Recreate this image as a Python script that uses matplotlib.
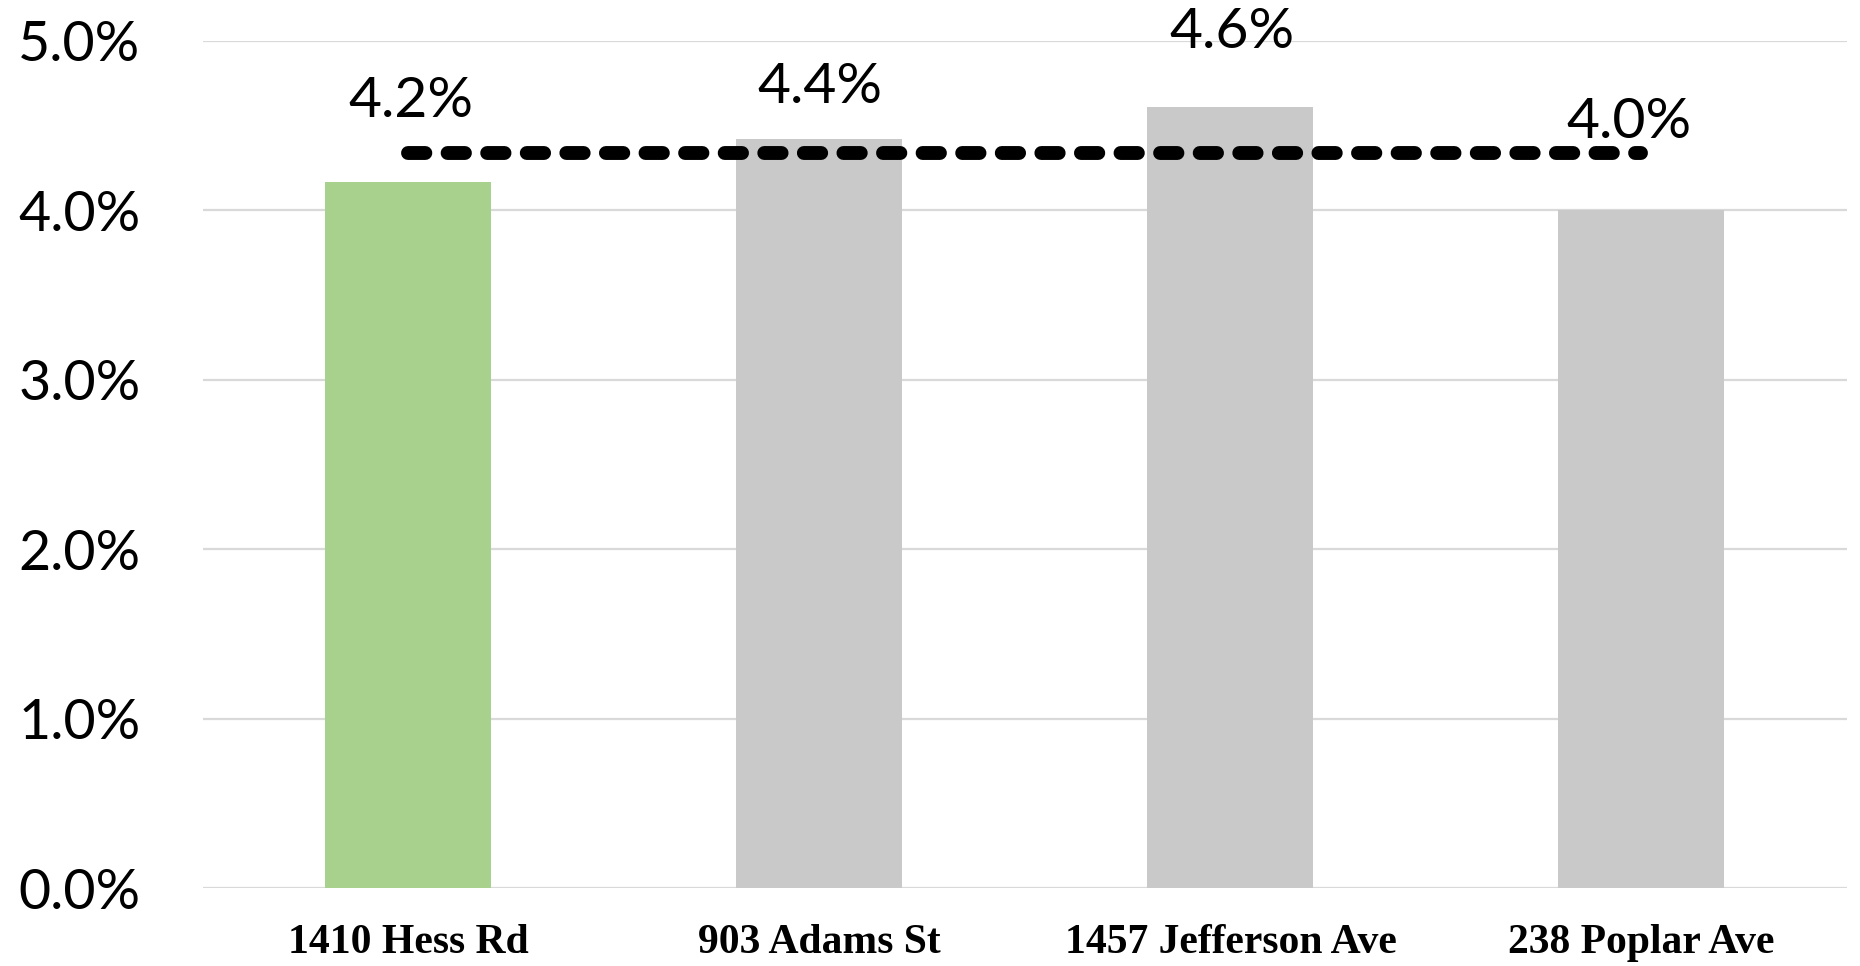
import matplotlib
matplotlib.use('Agg')
import matplotlib.pyplot as plt
from matplotlib.ticker import PercentFormatter

# vacancy rate by property, with the portfolio average as a dashed line
properties = ['1410 Hess Rd', '903 Adams St', '1457 Jefferson Ave', '238 Poplar Ave']
rates = [0.0417, 0.0442, 0.0461, 0.0400]
average_rate = 0.0434

bar_colors = ['#a9d18e', '#c9c9c9', '#c9c9c9', '#c9c9c9']
label_offsets = [58, 37, 54, 63]   # points above each bar top
label_shift = [2, 0, 1, -9]         # points, horizontal nudge

fig = plt.figure(figsize=(18.6, 9.66), dpi=100)
ax = fig.add_axes([0.1091, 0.0807, 0.8839, 0.8769])

x = range(len(properties))
ax.bar(x, rates, width=0.404, color=bar_colors, zorder=2)
ax.plot([0, len(properties) - 1], [average_rate, average_rate], color='black',
        lw=10, dashes=(1.25, 1.6), dash_capstyle='round', zorder=3)

for i, r in enumerate(rates):
    ax.annotate('{:.1f}%'.format(r * 100), (i, r), xytext=(label_shift[i], label_offsets[i]),
                textcoords='offset points', ha='center', va='center',
                fontsize=41, family='Lato', zorder=4)

ax.set_xlim(-0.5, len(properties) - 0.5)
ax.set_ylim(0, 0.05)
ax.set_yticks([0, 0.01, 0.02, 0.03, 0.04, 0.05])
ax.yaxis.set_major_formatter(PercentFormatter(1.0, decimals=1))
ax.grid(axis='y', color='#d9d9d9', lw=1.6, zorder=0)
ax.set_axisbelow(True)
for s in ax.spines.values():
    s.set_visible(False)

ax.set_xticks(list(x))
ax.set_xticklabels(properties, family='Liberation Serif', fontweight='bold', fontsize=30)
ax.tick_params(axis='x', length=0, pad=26)
ax.tick_params(axis='y', length=0, pad=45, labelsize=40)
for t in ax.get_yticklabels():
    t.set_family('Lato')

fig.savefig('out.png', dpi=100)
